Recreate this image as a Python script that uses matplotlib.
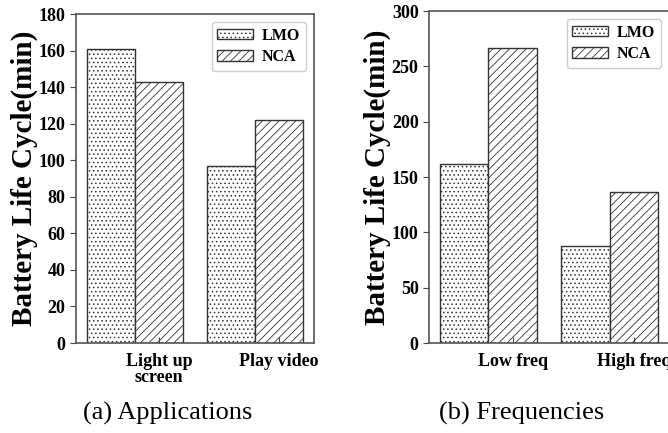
import numpy as np
import matplotlib
matplotlib.use('Agg')
import matplotlib.pyplot as plt

plt.rcParams['font.family'] = ['Liberation Serif', 'DejaVu Serif']
plt.rcParams['hatch.linewidth'] = 0.6

# data
series = ['LMO', 'NCA']
hatches = ['....', '////']

apps = ['Light up\nscreen', 'Play video']
apps_lmo = [161, 97]
apps_nca = [143, 122]

freqs = ['Low freq', 'High freq']
freqs_lmo = [162, 88]
freqs_nca = [267, 136]

fig = plt.figure(figsize=(6.68, 4.33), dpi=100)
W, H = 668.0, 433.0
ax1 = fig.add_axes([76 / W, 1 - 343 / H, 238 / W, 329 / H])
ax2 = fig.add_axes([429 / W, 1 - 343 / H, 240 / W, 332 / H])

width = 0.4


def draw(ax, cats, lmo, nca, ymax, step):
    x = np.arange(len(cats))
    for i, (vals, h) in enumerate(zip([lmo, nca], hatches)):
        ax.bar(x + i * width, vals, width, color='white', edgecolor='#333333',
               hatch=h, linewidth=1.0, label=series[i])
    ax.set_xticks(x + width)
    ax.set_xticklabels(cats, fontsize=13, fontweight='bold', linespacing=0.95)
    ax.tick_params(axis='x', direction='in', length=4, color='#444444', pad=7)
    ax.set_ylim(0, ymax)
    ax.set_yticks(np.arange(0, ymax + 1, step))
    ax.tick_params(axis='y', direction='out', length=4, color='#444444',
                   labelsize=13)
    for lab in ax.get_yticklabels():
        lab.set_fontweight('bold')
    for s in ax.spines.values():
        s.set_color('#555555')
        s.set_linewidth(1.2)
    ax.set_ylabel('Battery Life Cycle(min)', fontsize=21, fontweight='bold')
    leg = ax.legend(loc='upper right', prop={'weight': 'bold', 'size': 11.5},
                    handlelength=2.2, handleheight=0.65, borderpad=0.35,
                    labelspacing=0.35, handletextpad=0.6,
                    fancybox=True, framealpha=1)
    leg.get_frame().set_edgecolor('#cccccc')


draw(ax1, apps, apps_lmo, apps_nca, 180, 20)
draw(ax2, freqs, freqs_lmo, freqs_nca, 300, 50)
ax1.yaxis.set_label_coords(-0.16, 0.5)
ax2.yaxis.set_label_coords(-0.158, 0.5)

fig.text(168 / W, 1 - 413 / H, '(a) Applications', ha='center', va='center',
         fontsize=19)
fig.text(522 / W, 1 - 413 / H, '(b) Frequencies', ha='center', va='center',
         fontsize=19)

fig.savefig('out.png', dpi=100)
